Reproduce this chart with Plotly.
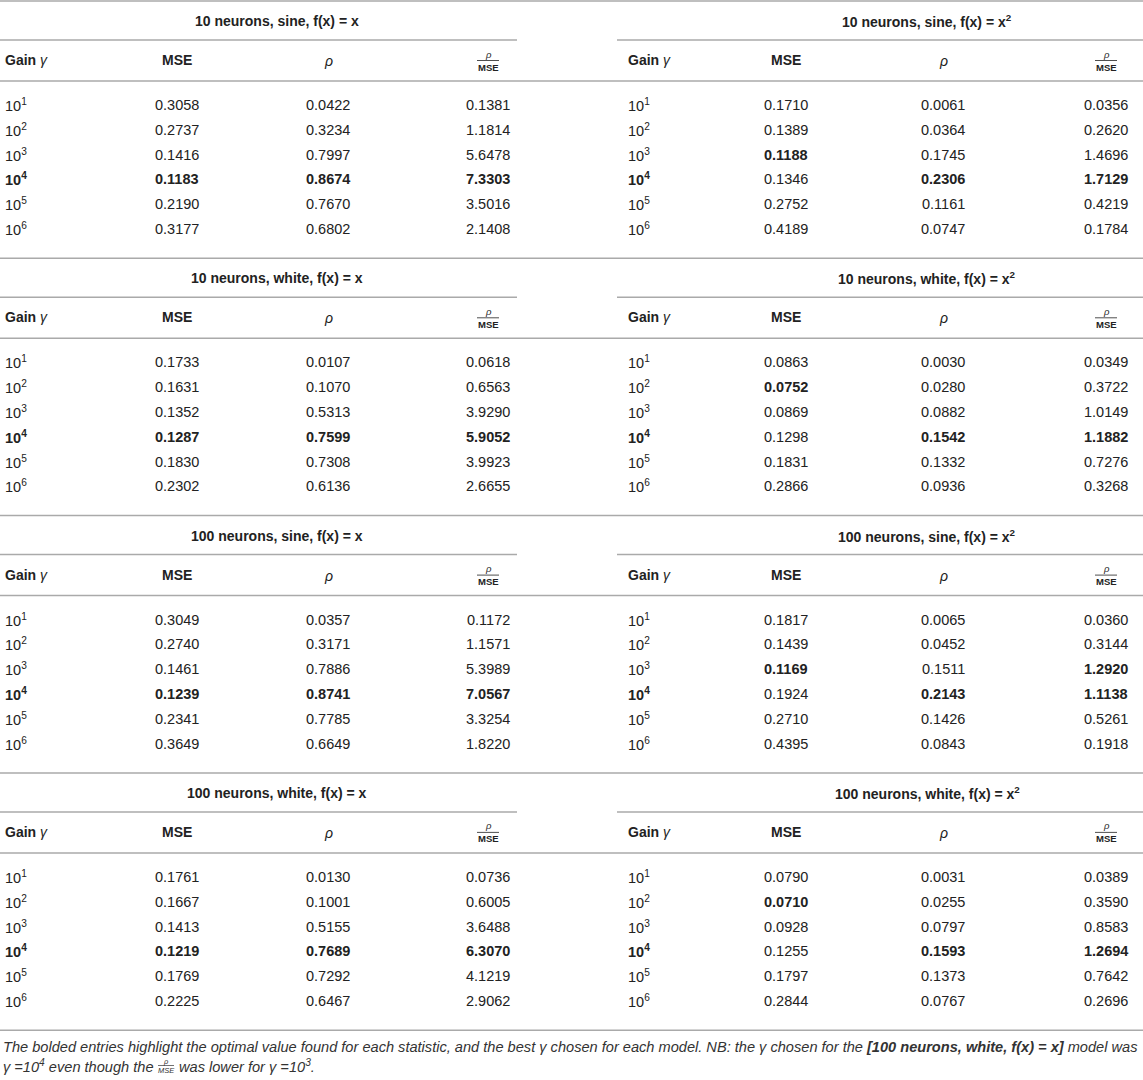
import plotly.graph_objects as go

# panels, read left to right and then top to bottom
PANEL_TITLES = [
    "10 neurons, sine, f(x) = x",
    "10 neurons, sine, f(x) = x<sup>2</sup>",
    "10 neurons, white, f(x) = x",
    "10 neurons, white, f(x) = x<sup>2</sup>",
    "100 neurons, sine, f(x) = x",
    "100 neurons, sine, f(x) = x<sup>2</sup>",
    "100 neurons, white, f(x) = x",
    "100 neurons, white, f(x) = x<sup>2</sup>",
]
GAINS = ["10<sup>1</sup>", "10<sup>2</sup>", "10<sup>3</sup>",
         "10<sup>4</sup>", "10<sup>5</sup>", "10<sup>6</sup>"]

MSE = [
    [0.3058, 0.2737, 0.1416, 0.1183, 0.2190, 0.3177],
    [0.1710, 0.1389, 0.1188, 0.1346, 0.2752, 0.4189],
    [0.1733, 0.1631, 0.1352, 0.1287, 0.1830, 0.2302],
    [0.0863, 0.0752, 0.0869, 0.1298, 0.1831, 0.2866],
    [0.3049, 0.2740, 0.1461, 0.1239, 0.2341, 0.3649],
    [0.1817, 0.1439, 0.1169, 0.1924, 0.2710, 0.4395],
    [0.1761, 0.1667, 0.1413, 0.1219, 0.1769, 0.2225],
    [0.0790, 0.0710, 0.0928, 0.1255, 0.1797, 0.2844],
]
RHO = [
    [0.0422, 0.3234, 0.7997, 0.8674, 0.7670, 0.6802],
    [0.0061, 0.0364, 0.1745, 0.2306, 0.1161, 0.0747],
    [0.0107, 0.1070, 0.5313, 0.7599, 0.7308, 0.6136],
    [0.0030, 0.0280, 0.0882, 0.1542, 0.1332, 0.0936],
    [0.0357, 0.3171, 0.7886, 0.8741, 0.7785, 0.6649],
    [0.0065, 0.0452, 0.1511, 0.2143, 0.1426, 0.0843],
    [0.0130, 0.1001, 0.5155, 0.7689, 0.7292, 0.6467],
    [0.0031, 0.0255, 0.0797, 0.1593, 0.1373, 0.0767],
]
RATIO = [
    [0.1381, 1.1814, 5.6478, 7.3303, 3.5016, 2.1408],
    [0.0356, 0.2620, 1.4696, 1.7129, 0.4219, 0.1784],
    [0.0618, 0.6563, 3.9290, 5.9052, 3.9923, 2.6655],
    [0.0349, 0.3722, 1.0149, 1.1882, 0.7276, 0.3268],
    [0.1172, 1.1571, 5.3989, 7.0567, 3.3254, 1.8220],
    [0.0360, 0.3144, 1.2920, 1.1138, 0.5261, 0.1918],
    [0.0736, 0.6005, 3.6488, 6.3070, 4.1219, 2.9062],
    [0.0389, 0.3590, 0.8583, 1.2694, 0.7642, 0.2696],
]

# rows printed in bold (index into GAINS)
BEST_GAIN = [3, 3, 3, 3, 3, 3, 3, 3]
BEST_MSE = [[3], [2], [3], [1], [3], [2], [3], [1]]
BEST_RHO = [[3], [3], [3], [3], [3], [3], [3], [3]]
BEST_RATIO = [[3], [3], [3], [3], [3], [2, 3], [3], [3]]

W, H = 1143, 1080
FONT = "Liberation Sans, Arial, sans-serif"
INK = "#222222"
NOTE_INK = "#333333"
RULE = "#aaaaaa"
SIZE = 14.5

BLOCK_TOP = [1 + i * 257.3 for i in range(5)]
COLS = [(3, 177, 328, 488), (626, 786, 943, 1106)]
TITLE_X = [277, 927]
UNDERLINE = [(0, 517), (617, W)]

fig = go.Figure()
annotations = []
shapes = []


def text(x, y, s, size=SIZE, anchor="center", color=INK):
    annotations.append(dict(
        x=x, y=y, xref="x", yref="y", text=s, showarrow=False,
        xanchor=anchor, yanchor="middle",
        font=dict(family=FONT, size=size, color=color),
    ))


def rule(x0, x1, y, width=1.5, color=RULE):
    shapes.append(dict(
        type="line", xref="x", yref="y", x0=x0, x1=x1, y0=y, y1=y,
        line=dict(color=color, width=width),
    ))


def bold_if(s, on):
    return f"<b>{s}</b>" if on else s


for b in range(4):
    s = BLOCK_TOP[b]
    rule(0, W, s)
    rule(0, W, s + 80)
    for side in range(2):
        p = b * 2 + side
        gx, mx, rx, qx = COLS[side]
        text(TITLE_X[side], s + 20, f"<b>{PANEL_TITLES[p]}</b>", size=14)
        rule(UNDERLINE[side][0], UNDERLINE[side][1], s + 39)

        # column headers
        text(gx, s + 59, "<b>Gain</b> <i>γ</i>", size=14, anchor="left")
        text(mx, s + 59, "<b>MSE</b>", size=14)
        text(rx, s + 60, "<i>ρ</i>", size=14)
        text(qx, s + 53, "<i>ρ</i>", size=9.5)
        rule(qx - 11, qx + 11, s + 59.5, width=0.8, color=INK)
        text(qx, s + 66, "<b>MSE</b>", size=9.5)

        for r, g in enumerate(GAINS):
            y = s + 104 + 24.8 * r
            text(gx, y, bold_if(g, r == BEST_GAIN[p]), anchor="left")
            text(mx, y, bold_if(f"{MSE[p][r]:.4f}", r in BEST_MSE[p]))
            text(rx, y, bold_if(f"{RHO[p][r]:.4f}", r in BEST_RHO[p]))
            text(qx, y, bold_if(f"{RATIO[p][r]:.4f}", r in BEST_RATIO[p]))

rule(0, W, BLOCK_TOP[4])

# footnote
NOTE_1 = ("<i>The bolded entries highlight the optimal value found for each statistic, "
          "and the best γ chosen for each model. NB: the γ chosen for the "
          "<b>[100 neurons, white, f(x) = x]</b> model was</i>")
NOTE_2A = "<i>γ =10<sup>4</sup> even though the</i>"
NOTE_2B = "<i>was lower for γ =10<sup>3</sup>.</i>"
text(1, 1047, NOTE_1, size=14.6, anchor="left", color=NOTE_INK)
text(1, 1066, NOTE_2A, size=14.6, anchor="left", color=NOTE_INK)
text(166, 1061, "<i>ρ</i>", size=7.5, color=NOTE_INK)
rule(158, 174, 1065.5, width=0.7, color=NOTE_INK)
text(166, 1070, "<i>MSE</i>", size=7.5, color=NOTE_INK)
text(177, 1066, NOTE_2B, size=14.6, anchor="left", color=NOTE_INK)

fig.update_layout(
    width=W,
    height=H,
    margin=dict(l=0, r=0, t=0, b=0),
    paper_bgcolor="white",
    plot_bgcolor="white",
    xaxis=dict(range=[0, W], visible=False, fixedrange=True),
    yaxis=dict(range=[H, 0], visible=False, fixedrange=True),
    annotations=annotations,
    shapes=shapes,
    showlegend=False,
)

# drop the default body margin so the figure fills the window edge to edge
fig.write_html(
    "out.html",
    config={"displayModeBar": False},
    post_script="document.body.style.margin = '0';",
)
